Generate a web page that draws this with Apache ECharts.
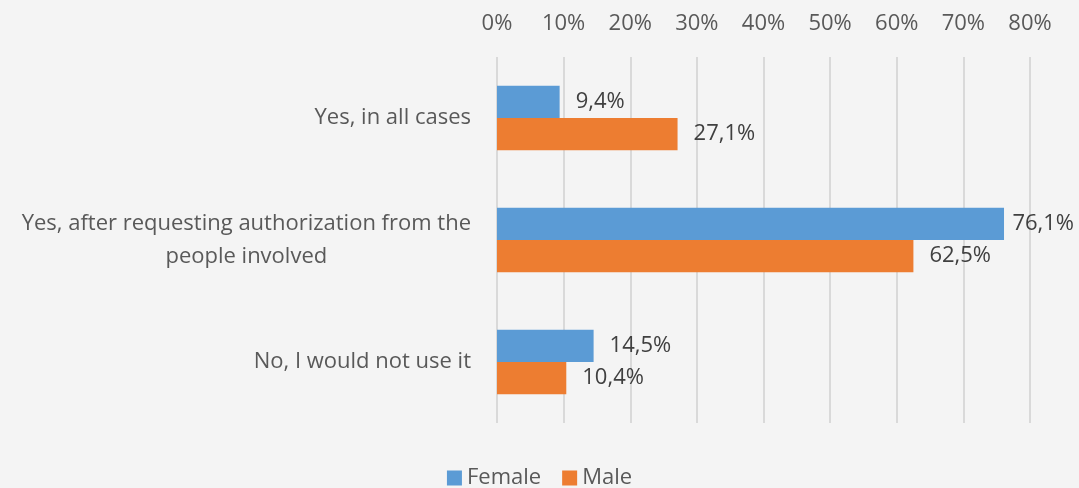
<!DOCTYPE html>
<html>
<head>
<meta charset="utf-8">
<script src="https://cdn.jsdelivr.net/npm/echarts@6/dist/echarts.min.js"></script>
<style>
html,body{margin:0;padding:0;background:#f4f4f4;}
#chart{width:1079px;height:488px;}
</style>
</head>
<body>
<div id="chart"></div>
<script>
const categories = ["Yes, in all cases", "Yes, after requesting authorization from the\npeople involved", "No, I would not use it"];
const femaleValues = [9.4, 76.1, 14.5];
const maleValues = [27.1, 62.5, 10.4];
const seriesNames = ["Female", "Male"];
const xTickMax = 80;
const xTickStep = 10;

const FONT = "'Open Sans', 'Noto Sans', sans-serif";
const FS = 22;
const CHART_W = 1079;
const chart = echarts.init(document.getElementById('chart'));
const fmt = v => v.toFixed(1).replace('.', ',') + '%';

// keep value labels inside the canvas (like Excel does), otherwise default spacing
const keepInside = p => {
  const r = p.labelRect;
  const over = r.x + r.width - (CHART_W - 5);
  return over > 0 ? { dx: -over } : {};
};

const labelStyle = {
  show: true, position: 'right', distance: 16,
  formatter: p => fmt(p.value), fontSize: FS, color: '#404040', fontFamily: FONT
};

chart.setOption({
  backgroundColor: '#f4f4f4',
  animation: false,
  textStyle: { fontFamily: FONT },
  grid: { left: 497, right: 49, top: 57, bottom: 65 },
  legend: {
    data: seriesNames,
    top: 467,
    left: 'center',
    padding: 0,
    itemWidth: 15,
    itemHeight: 15,
    itemGap: 21,
    icon: 'rect',
    textStyle: { fontSize: FS, color: '#595959', fontFamily: FONT }
  },
  xAxis: {
    type: 'value',
    position: 'top',
    min: 0,
    max: xTickMax,
    interval: xTickStep,
    axisLine: { show: false },
    axisTick: { show: false },
    splitLine: { show: true, lineStyle: { color: '#d9d9d9', width: 2 } },
    axisLabel: {
      formatter: v => v + '%',
      fontSize: FS,
      color: '#595959',
      margin: 22,
      fontFamily: FONT
    }
  },
  yAxis: {
    type: 'category',
    inverse: true,
    data: categories,
    axisLine: { show: false },
    axisTick: { show: false },
    axisLabel: {
      fontSize: FS,
      color: '#595959',
      margin: 26,
      lineHeight: 33,
      fontFamily: FONT,
      formatter: v => v.split('\n').map(s => '{c|' + s + '}').join('\n'),
      rich: { c: { align: 'center', fontSize: FS, color: '#595959', lineHeight: 33, fontFamily: FONT } }
    }
  },
  series: [
    {
      name: seriesNames[0],
      type: 'bar',
      data: femaleValues,
      barGap: '0%',
      barCategoryGap: '47%',
      itemStyle: { color: '#5b9bd5' },
      label: labelStyle,
      labelLayout: keepInside
    },
    {
      name: seriesNames[1],
      type: 'bar',
      data: maleValues,
      barGap: '0%',
      barCategoryGap: '47%',
      itemStyle: { color: '#ed7d31' },
      label: labelStyle,
      labelLayout: keepInside
    }
  ]
});
</script>
</body>
</html>
